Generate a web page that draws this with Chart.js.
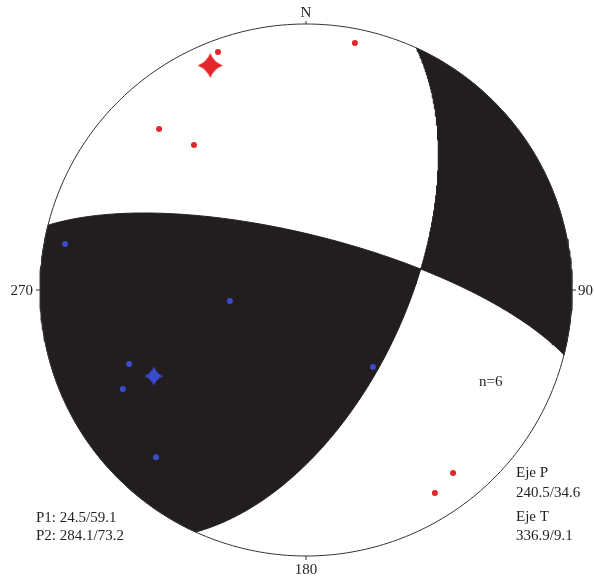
<!DOCTYPE html>
<html>
<head>
<meta charset="utf-8">
<script src="https://cdn.jsdelivr.net/npm/chart.js@4.4.1/dist/chart.umd.min.js"></script>
<style>
  html, body { margin: 0; padding: 0; background: #fff; }
  #wrap { width: 594px; height: 580px; position: relative; }
</style>
</head>
<body>
<div id="wrap"><canvas id="beachball"></canvas></div>
<script>
// ── Data ───────────────────────────────────────────────────────
const planeNames  = ["P1", "P2"];
const planeStrike = [24.5, 284.1];
const planeDip    = [59.1, 73.2];

const axisNames  = ["Eje P", "Eje T"];
const axisTrend  = [240.5, 336.9];
const axisPlunge = [34.6, 9.1];

// polaridades (tendencia / inmersión)
const redTrend   = [339.7, 11.2, 317.6, 322.3, 141.2, 147.6];
const redPlunge  = [5.2, 6.0, 19.2, 31.7, 12.8, 10.5];
const blueTrend  = [280.8, 261.8, 139.0, 247.3, 241.6, 221.9];
const bluePlunge = [8.6, 66.4, 58.5, 28.7, 22.8, 16.7];

const compassLabels = ["N", "90", "180", "270"];
const countLabel = "n=6";

// ── Geometry helpers (equal-area, lower hemisphere) ────────────
const rad = (d) => d * Math.PI / 180;

function project([n, e, d]) {
  if (d < 0) { n = -n; e = -e; d = -d; }
  const len = Math.hypot(n, e, d);
  n /= len; e /= len; d /= len;
  const plunge = Math.asin(Math.min(1, d));
  const trend  = Math.atan2(e, n);
  const r = Math.SQRT2 * Math.sin((Math.PI / 2 - plunge) / 2);
  return { x: r * Math.sin(trend), y: r * Math.cos(trend) };
}

const lineVec = (t, p) => [Math.cos(rad(p)) * Math.cos(rad(t)), Math.cos(rad(p)) * Math.sin(rad(t)), Math.sin(rad(p))];
const dot   = (a, b) => a[0] * b[0] + a[1] * b[1] + a[2] * b[2];
const cross = (a, b) => [a[1] * b[2] - a[2] * b[1], a[2] * b[0] - a[0] * b[2], a[0] * b[1] - a[1] * b[0]];

const strikeVec = (i) => [Math.cos(rad(planeStrike[i])), Math.sin(rad(planeStrike[i])), 0];
const dipVec = (i) => {
  const s = rad(planeStrike[i] + 90), d = rad(planeDip[i]);
  return [Math.cos(d) * Math.cos(s), Math.cos(d) * Math.sin(s), Math.sin(d)];
};
const poleVec = (i) => lineVec(planeStrike[i] + 270, 90 - planeDip[i]);

function greatCircle(i, l0, l1, steps = 120) {
  const sv = strikeVec(i), dv = dipVec(i), out = [];
  for (let k = 0; k <= steps; k++) {
    const l = l0 + (l1 - l0) * k / steps;
    out.push(project([0, 1, 2].map((j) => Math.cos(l) * sv[j] + Math.sin(l) * dv[j])));
  }
  return out;
}

function arc(a0, a1) {
  const out = [];
  for (let a = a0; a <= a1; a += 1) out.push({ x: Math.sin(rad(a)), y: Math.cos(rad(a)) });
  out.push({ x: Math.sin(rad(a1)), y: Math.cos(rad(a1)) });
  return out;
}

// null axis + its position on each plane
let bAxis = cross(poleVec(0), poleVec(1));
if (bAxis[2] < 0) bAxis = bAxis.map((v) => -v);
const lamB = [0, 1].map((i) => Math.atan2(dot(bAxis, dipVec(i)), dot(bAxis, strikeVec(i))));

const leftQuad = [
  ...arc(planeStrike[0] + 180, planeStrike[1]),
  ...greatCircle(1, 0, lamB[1]),
  ...greatCircle(0, lamB[0], Math.PI),
];
const rightQuad = [
  ...arc(planeStrike[0], planeStrike[1] - 180),
  ...greatCircle(1, Math.PI, lamB[1]),
  ...greatCircle(0, lamB[0], 0),
];

const toPoints = (tr, pl) => tr.map((t, k) => project(lineVec(t, pl[k])));

// ── Star point style (4 puntas, lados cóncavos) ────────────────
function starImage(size, color) {
  const c = document.createElement("canvas");
  c.width = c.height = size;
  const g = c.getContext("2d"), h = size / 2, ctrl = h * 0.4;
  g.fillStyle = color;
  g.beginPath();
  g.moveTo(h, 0);
  for (let k = 0; k < 4; k++) {
    const a1 = (k + 0.5) * Math.PI / 2 - Math.PI / 2;
    const a2 = (k + 1) * Math.PI / 2 - Math.PI / 2;
    g.quadraticCurveTo(h + ctrl * Math.cos(a1), h + ctrl * Math.sin(a1), h + h * Math.cos(a2), h + h * Math.sin(a2));
  }
  g.closePath();
  g.fill();
  return c;
}

const RED = "#e3262b", BLUE = "#3a4ccb", INK = "#221e1f";

// ── Labels plugin ──────────────────────────────────────────────
const labelsPlugin = {
  id: "labels",
  afterDraw(chart) {
    const { ctx, scales: { x, y } } = chart;
    const cx = x.getPixelForValue(0), cy = y.getPixelForValue(0);
    const top = y.getPixelForValue(1), bot = y.getPixelForValue(-1);
    const lft = x.getPixelForValue(-1), rgt = x.getPixelForValue(1);
    ctx.save();
    ctx.strokeStyle = "#333";
    ctx.lineWidth = 1;
    ctx.beginPath();
    ctx.moveTo(cx, top); ctx.lineTo(cx, top - 3);
    ctx.moveTo(cx, bot); ctx.lineTo(cx, bot + 4);
    ctx.moveTo(lft, cy); ctx.lineTo(lft - 4, cy);
    ctx.moveTo(rgt, cy); ctx.lineTo(rgt + 4, cy);
    ctx.stroke();

    ctx.fillStyle = INK;
    ctx.font = "15px 'Liberation Serif', 'DejaVu Serif', serif";
    ctx.textAlign = "center"; ctx.textBaseline = "alphabetic";
    ctx.fillText(compassLabels[0], cx, top - 7);
    ctx.fillText(compassLabels[2], cx, bot + 18);
    ctx.textBaseline = "middle";
    ctx.textAlign = "left";  ctx.fillText(compassLabels[1], rgt + 6, cy + 1);
    ctx.textAlign = "right"; ctx.fillText(compassLabels[3], lft - 7, cy + 1);

    ctx.textBaseline = "alphabetic";
    ctx.textAlign = "left";
    ctx.fillText(countLabel, 479, 386);
    planeNames.forEach((n, i) => {
      ctx.fillText(`${n}: ${planeStrike[i].toFixed(1)}/${planeDip[i].toFixed(1)}`, 36, 522 + i * 18);
    });
    axisNames.forEach((n, i) => {
      ctx.fillText(n, 516, 477 + i * 44);
      ctx.fillText(`${axisTrend[i].toFixed(1)}/${axisPlunge[i].toFixed(1)}`, 516, 497 + i * 43);
    });
    ctx.restore();
  },
};

// ── Chart ──────────────────────────────────────────────────────
const quadStyle = {
  showLine: true, fill: "shape", backgroundColor: INK, borderColor: INK,
  borderWidth: 1, pointRadius: 0, tension: 0, clip: false, order: 3,
};

new Chart(document.getElementById("beachball"), {
  type: "scatter",
  data: {
    datasets: [
      { label: "P", data: [project(lineVec(axisTrend[0], axisPlunge[0]))], pointStyle: starImage(19, BLUE), order: 0, clip: false },
      { label: "T", data: [project(lineVec(axisTrend[1], axisPlunge[1]))], pointStyle: starImage(25, RED), order: 0, clip: false },
      { label: "rojo", data: toPoints(redTrend, redPlunge), backgroundColor: RED, borderWidth: 0, pointRadius: 3, order: 1, clip: false },
      { label: "azul", data: toPoints(blueTrend, bluePlunge), backgroundColor: BLUE, borderWidth: 0, pointRadius: 3, order: 1, clip: false },
      { label: "circulo", data: arc(0, 360), showLine: true, borderColor: "#333", borderWidth: 1, pointRadius: 0, fill: false, clip: false, order: 2 },
      { label: "q1", data: leftQuad, ...quadStyle },
      { label: "q2", data: rightQuad, ...quadStyle },
    ],
  },
  options: {
    responsive: true,
    maintainAspectRatio: false,
    animation: false,
    layout: { padding: { left: 40, right: 22, top: 24, bottom: 24 } },
    plugins: { legend: { display: false }, tooltip: { enabled: false } },
    scales: {
      x: { type: "linear", min: -1, max: 1, display: false },
      y: { type: "linear", min: -1, max: 1, display: false },
    },
  },
  plugins: [labelsPlugin],
});
</script>
</body>
</html>
